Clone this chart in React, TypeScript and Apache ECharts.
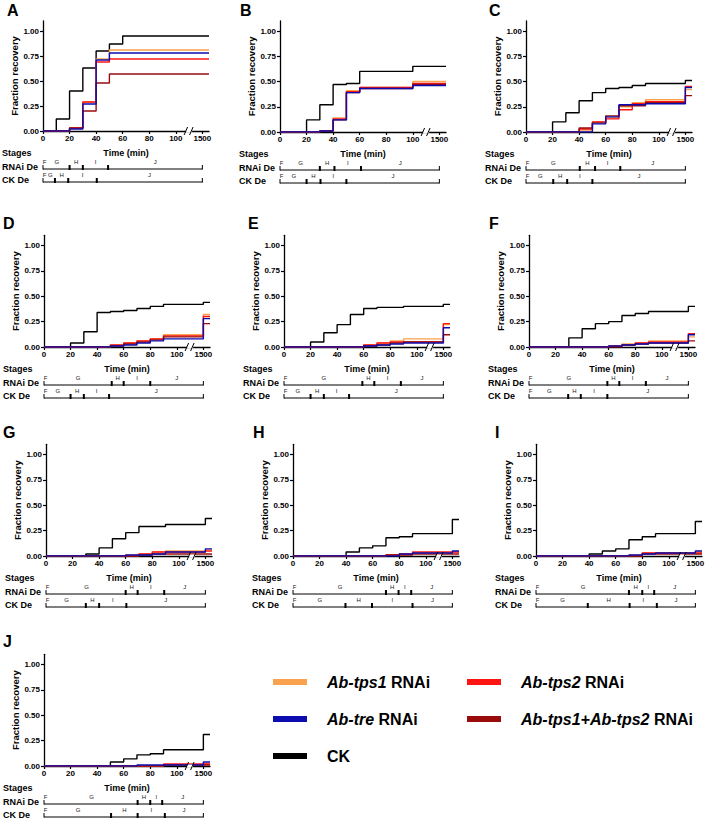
import React, { useEffect, useRef } from 'react';
import * as echarts from 'echarts';

const FONT = '"Liberation Sans", Arial, Helvetica, sans-serif';

// ---- data (time in minutes) ----
const TIMES = [0, 10, 20, 30, 40, 50, 60, 70, 80, 90, 100, 1500];
const X_TICKS_MIN = [0, 20, 40, 60, 80, 100, 1500];
const Y_TICKS = [0, 0.25, 0.5, 0.75, 1.0];
const END_MIN = 1550;
const BREAK_AT = 110;
const STAGE_END_MIN = 1500;
const STAGE_LETTERS = ['F', 'G', 'H', 'I', 'J'];
const ROW_NAMES = ['RNAi De', 'CK De'];

const A_CK = [0, 0.12, 0.40, 0.63, 0.80, 0.87, 0.95, 0.95, 0.95, 0.95, 0.95, 0.95];
const A_TPS1 = [0, 0, 0.03, 0.29, 0.72, 0.81, 0.81, 0.81, 0.81, 0.81, 0.81, 0.81];
const A_TRE = [0, 0, 0.02, 0.27, 0.71, 0.78, 0.78, 0.78, 0.78, 0.78, 0.78, 0.78];
const A_TPS2 = [0, 0, 0.03, 0.29, 0.69, 0.72, 0.72, 0.72, 0.72, 0.72, 0.72, 0.72];
const A_TPS12 = [0, 0, 0.03, 0.20, 0.48, 0.57, 0.57, 0.57, 0.57, 0.57, 0.57, 0.57];

const B_CK = [0, 0, 0.12, 0.27, 0.47, 0.48, 0.60, 0.60, 0.60, 0.60, 0.65, 0.65];
const B_TPS1 = [0, 0, 0, 0.01, 0.14, 0.41, 0.44, 0.44, 0.44, 0.44, 0.50, 0.50];
const B_TRE = [0, 0, 0, 0.01, 0.12, 0.39, 0.43, 0.43, 0.43, 0.43, 0.46, 0.46];
const B_TPS2 = [0, 0, 0, 0.01, 0.13, 0.40, 0.44, 0.44, 0.44, 0.44, 0.48, 0.48];
const B_TPS12 = [0, 0, 0, 0.01, 0.12, 0.39, 0.43, 0.43, 0.43, 0.43, 0.47, 0.47];

const C_CK = [0, 0, 0.10, 0.19, 0.31, 0.39, 0.43, 0.44, 0.46, 0.48, 0.48, 0.51];
const C_TPS1 = [0, 0, 0, 0, 0.02, 0.10, 0.14, 0.25, 0.29, 0.32, 0.32, 0.42];
const C_TRE = [0, 0, 0, 0, 0, 0.08, 0.15, 0.27, 0.27, 0.28, 0.28, 0.44];
const C_TPS2 = [0, 0, 0, 0, 0.03, 0.10, 0.13, 0.22, 0.28, 0.30, 0.30, 0.45];
const C_TPS12 = [0, 0, 0, 0, 0.04, 0.09, 0.16, 0.26, 0.26, 0.29, 0.29, 0.36];

const D_CK = [0, 0, 0.04, 0.15, 0.34, 0.35, 0.36, 0.38, 0.40, 0.42, 0.42, 0.44];
const D_TPS1 = [0, 0, 0, 0, 0, 0.02, 0.04, 0.06, 0.08, 0.12, 0.12, 0.32];
const D_TRE = [0, 0, 0, 0, 0, 0.01, 0.02, 0.04, 0.06, 0.08, 0.08, 0.28];
const D_TPS2 = [0, 0, 0, 0, 0, 0.02, 0.04, 0.06, 0.08, 0.11, 0.11, 0.30];
const D_TPS12 = [0, 0, 0, 0, 0, 0.01, 0.03, 0.05, 0.07, 0.10, 0.10, 0.23];

const E_CK = [0, 0, 0.05, 0.14, 0.22, 0.32, 0.38, 0.39, 0.39, 0.40, 0.40, 0.42];
const E_TPS1 = [0, 0, 0, 0, 0, 0, 0.02, 0.04, 0.06, 0.08, 0.08, 0.22];
const E_TRE = [0, 0, 0, 0, 0, 0, 0.01, 0.02, 0.03, 0.04, 0.04, 0.19];
const E_TPS2 = [0, 0, 0, 0, 0, 0, 0.02, 0.04, 0.05, 0.05, 0.05, 0.23];
const E_TPS12 = [0, 0, 0, 0, 0, 0, 0.01, 0.02, 0.04, 0.05, 0.05, 0.12];

const F_CK = [0, 0, 0, 0.09, 0.18, 0.23, 0.25, 0.31, 0.33, 0.35, 0.35, 0.40];
const F_TPS1 = [0, 0, 0, 0, 0, 0, 0.01, 0.03, 0.04, 0.06, 0.06, 0.10];
const F_TRE = [0, 0, 0, 0, 0, 0, 0.01, 0.02, 0.03, 0.04, 0.04, 0.12];
const F_TPS2 = [0, 0, 0, 0, 0, 0, 0.01, 0.02, 0.04, 0.05, 0.05, 0.13];
const F_TPS12 = [0, 0, 0, 0, 0, 0, 0, 0.02, 0.03, 0.04, 0.04, 0.06];

const G_CK = [0, 0, 0, 0.02, 0.08, 0.17, 0.23, 0.29, 0.29, 0.31, 0.31, 0.37];
const G_TPS1 = [0, 0, 0, 0, 0, 0, 0.01, 0.02, 0.04, 0.05, 0.05, 0.06];
const G_TRE = [0, 0, 0, 0, 0, 0, 0.01, 0.01, 0.02, 0.04, 0.04, 0.07];
const G_TPS2 = [0, 0, 0, 0, 0, 0, 0, 0.02, 0.04, 0.04, 0.04, 0.05];
const G_TPS12 = [0, 0, 0, 0, 0, 0, 0, 0.01, 0.02, 0.02, 0.02, 0.02];

const H_CK = [0, 0, 0, 0, 0.04, 0.08, 0.10, 0.18, 0.19, 0.22, 0.22, 0.36];
const H_TPS1 = [0, 0, 0, 0, 0, 0, 0, 0.01, 0.02, 0.03, 0.03, 0.04];
const H_TRE = [0, 0, 0, 0, 0, 0, 0, 0, 0.02, 0.03, 0.03, 0.05];
const H_TPS2 = [0, 0, 0, 0, 0, 0, 0, 0.01, 0.02, 0.04, 0.04, 0.04];
const H_TPS12 = [0, 0, 0, 0, 0, 0, 0, 0.01, 0.01, 0.02, 0.02, 0.02];

const I_CK = [0, 0, 0, 0, 0.02, 0.05, 0.07, 0.16, 0.19, 0.22, 0.22, 0.34];
const I_TPS1 = [0, 0, 0, 0, 0, 0, 0, 0.01, 0.03, 0.03, 0.03, 0.04];
const I_TRE = [0, 0, 0, 0, 0, 0, 0, 0.01, 0.02, 0.03, 0.03, 0.05];
const I_TPS2 = [0, 0, 0, 0, 0, 0, 0, 0, 0.03, 0.03, 0.03, 0.03];
const I_TPS12 = [0, 0, 0, 0, 0, 0, 0, 0, 0.02, 0.02, 0.02, 0.02];

const J_CK = [0, 0, 0, 0, 0, 0.04, 0.07, 0.11, 0.12, 0.16, 0.16, 0.31];
const J_TPS1 = [0, 0, 0, 0, 0, 0, 0, 0, 0, 0.01, 0.01, 0.02];
const J_TRE = [0, 0, 0, 0, 0, 0, 0, 0.01, 0.01, 0.01, 0.01, 0.04];
const J_TPS2 = [0, 0, 0, 0, 0, 0, 0, 0, 0, 0.02, 0.02, 0.02];
const J_TPS12 = [0, 0, 0, 0, 0, 0, 0, 0, 0, 0.01, 0.01, 0.01];

// stage boundaries (min): end of F, G, H, I
const A_RNAI_ST = [1, 20, 30, 49];
const A_CK_ST = [2, 9, 19, 40.5];
const B_RNAI_ST = [1, 30, 41, 61];
const B_CK_ST = [1, 20, 30.5, 50];
const C_RNAI_ST = [0.5, 40.5, 52, 71];
const C_CK_ST = [1, 20.5, 31, 50];
const D_RNAI_ST = [0.5, 51, 60, 80];
const D_CK_ST = [1, 20, 30, 49];
const E_RNAI_ST = [1, 59, 68, 88];
const E_CK_ST = [1, 20, 30, 49];
const F_RNAI_ST = [1, 59, 68, 88];
const F_CK_ST = [1, 29.5, 39, 59];
const G_RNAI_ST = [1, 60, 69, 89];
const G_CK_ST = [1, 30, 40, 60.5];
const H_RNAI_ST = [1, 70, 79.5, 89];
const H_CK_ST = [1, 39.5, 59.5, 90];
const I_RNAI_ST = [1, 70, 80, 89];
const I_CK_ST = [1, 39, 70.5, 91];
const J_RNAI_ST = [1, 70.5, 80, 89];
const J_CK_ST = [1, 50.5, 70.5, 91];

const SERIES_DEF = [
  { key: 'ck', name: 'CK', color: '#000000' },
  { key: 'tps1', name: 'Ab-tps1 RNAi', color: '#F9A24D' },
  { key: 'tps2', name: 'Ab-tps2 RNAi', color: '#FF1414' },
  { key: 'tps12', name: 'Ab-tps1+Ab-tps2 RNAi', color: '#9A0C0C' },
  { key: 'tre', name: 'Ab-tre RNAi', color: '#0C0CB0' },
];

const PANELS = [
  { id: 'A', ck: A_CK, tps1: A_TPS1, tre: A_TRE, tps2: A_TPS2, tps12: A_TPS12, rnaiSt: A_RNAI_ST, ckSt: A_CK_ST },
  { id: 'B', ck: B_CK, tps1: B_TPS1, tre: B_TRE, tps2: B_TPS2, tps12: B_TPS12, rnaiSt: B_RNAI_ST, ckSt: B_CK_ST },
  { id: 'C', ck: C_CK, tps1: C_TPS1, tre: C_TRE, tps2: C_TPS2, tps12: C_TPS12, rnaiSt: C_RNAI_ST, ckSt: C_CK_ST },
  { id: 'D', ck: D_CK, tps1: D_TPS1, tre: D_TRE, tps2: D_TPS2, tps12: D_TPS12, rnaiSt: D_RNAI_ST, ckSt: D_CK_ST },
  { id: 'E', ck: E_CK, tps1: E_TPS1, tre: E_TRE, tps2: E_TPS2, tps12: E_TPS12, rnaiSt: E_RNAI_ST, ckSt: E_CK_ST },
  { id: 'F', ck: F_CK, tps1: F_TPS1, tre: F_TRE, tps2: F_TPS2, tps12: F_TPS12, rnaiSt: F_RNAI_ST, ckSt: F_CK_ST },
  { id: 'G', ck: G_CK, tps1: G_TPS1, tre: G_TRE, tps2: G_TPS2, tps12: G_TPS12, rnaiSt: G_RNAI_ST, ckSt: G_CK_ST },
  { id: 'H', ck: H_CK, tps1: H_TPS1, tre: H_TRE, tps2: H_TPS2, tps12: H_TPS12, rnaiSt: H_RNAI_ST, ckSt: H_CK_ST },
  { id: 'I', ck: I_CK, tps1: I_TPS1, tre: I_TRE, tps2: I_TPS2, tps12: I_TPS12, rnaiSt: I_RNAI_ST, ckSt: I_CK_ST },
  { id: 'J', ck: J_CK, tps1: J_TPS1, tre: J_TRE, tps2: J_TPS2, tps12: J_TPS12, rnaiSt: J_RNAI_ST, ckSt: J_CK_ST },
];

// ---- layout (pixels) ----
const LAYOUT = [
  { left: 43, y0: 131, unit: 100, lx: 7, ly: 2 },
  { left: 280, y0: 132, unit: 101, lx: 240, ly: 2 },
  { left: 526, y0: 132, unit: 101, lx: 489, ly: 2 },
  { left: 44, y0: 347, unit: 101.5, lx: 3, ly: 215 },
  { left: 284, y0: 347, unit: 101.5, lx: 248, ly: 215 },
  { left: 529, y0: 347, unit: 101.5, lx: 489, ly: 215 },
  { left: 46, y0: 556, unit: 101.5, lx: 3, ly: 424 },
  { left: 293, y0: 556, unit: 101.5, lx: 253, ly: 424 },
  { left: 536, y0: 556, unit: 101.5, lx: 495, ly: 424 },
  { left: 44, y0: 766, unit: 101.5, lx: 3, ly: 633 },
];
const GRID_W = 166;
const Y_MAX = 1.1;

const xval = (t: number) => (t >= 1500 ? 120 + (t - 1500) / 10 : t);
const xLabel = (v: number) => (v >= 120 ? String(Math.round(1500 + (v - 120) * 10)) : String(v));

function buildOption() {
  const grids: any[] = [];
  const xAxes: any[] = [];
  const yAxes: any[] = [];
  const series: any[] = [];
  const titles: any[] = [];

  PANELS.forEach((p: any, i: number) => {
    const L = LAYOUT[i];
    const h = L.unit * Y_MAX;
    grids.push({ left: L.left, top: L.y0 - h, width: GRID_W, height: h, containLabel: false });
    titles.push({
      text: p.id, left: L.lx, top: L.ly, padding: 0,
      textStyle: { fontSize: 16, fontWeight: 'bold', color: '#000', fontFamily: FONT },
    });
    const xt = X_TICKS_MIN.map(xval);
    xAxes.push({
      type: 'value', gridIndex: i, min: 0, max: xval(END_MIN),
      name: 'Time (min)', nameLocation: 'middle', nameGap: 17,
      nameTextStyle: { fontSize: 9, fontWeight: 'bold', color: '#000', fontFamily: FONT },
      axisLine: { show: true, onZero: false, lineStyle: { color: '#000', width: 1.3 } },
      axisTick: { show: true, length: 3, customValues: xt, lineStyle: { color: '#000', width: 1.2 } },
      axisLabel: {
        customValues: xt, margin: 3, fontSize: 8, fontWeight: 'bold', color: '#000', fontFamily: FONT,
        formatter: (v: number) => xLabel(v),
      },
      splitLine: { show: false },
    });
    yAxes.push({
      type: 'value', gridIndex: i, min: 0, max: Y_MAX,
      name: 'Fraction recovery', nameLocation: 'middle', nameGap: 23,
      nameTextStyle: { fontSize: 9.5, fontWeight: 'bold', color: '#000', fontFamily: FONT },
      axisLine: { show: true, onZero: false, lineStyle: { color: '#000', width: 1.3 } },
      axisTick: { show: true, length: 3, customValues: Y_TICKS, lineStyle: { color: '#000', width: 1.2 } },
      axisLabel: {
        customValues: Y_TICKS, margin: 4, fontSize: 8, fontWeight: 'bold', color: '#000', fontFamily: FONT,
        formatter: (v: number) => v.toFixed(2),
      },
      splitLine: { show: false },
    });

    SERIES_DEF.forEach((sd) => {
      const vals: number[] = p[sd.key];
      const data = TIMES.map((t, k) => [xval(t), vals[k]]);
      data.push([xval(END_MIN), vals[vals.length - 1]]);
      series.push({
        type: 'line', name: sd.name, xAxisIndex: i, yAxisIndex: i, data,
        step: 'end', symbol: 'none', color: sd.color,
        lineStyle: { color: sd.color, width: 1.4 }, itemStyle: { color: sd.color },
        emphasis: { disabled: true }, silent: true,
      });
    });

    // axis break
    series.push({
      type: 'custom', xAxisIndex: i, yAxisIndex: i, silent: true, clip: false, z: 5,
      data: [[BREAK_AT, 0]],
      renderItem: (params: any, api: any) => {
        const c = api.coord([api.value(0), api.value(1)]);
        return {
          type: 'group',
          children: [
            { type: 'rect', shape: { x: c[0] - 3, y: c[1] - 1.5, width: 6, height: 3 }, style: { fill: '#fff' } },
            { type: 'line', shape: { x1: c[0] - 5, y1: c[1] + 4, x2: c[0] - 1.5, y2: c[1] - 4 }, style: { stroke: '#000', lineWidth: 1 } },
            { type: 'line', shape: { x1: c[0] + 0.5, y1: c[1] + 4, x2: c[0] + 4, y2: c[1] - 4 }, style: { stroke: '#000', lineWidth: 1 } },
          ],
        };
      },
    });

    // stage bars
    series.push({
      type: 'custom', xAxisIndex: i, yAxisIndex: i, silent: true, clip: false, z: 5,
      encode: { x: 1, y: 0 },
      data: [[0, ...p.rnaiSt], [1, ...p.ckSt]],
      renderItem: (params: any, api: any) => {
        const row = api.value(0);
        const b = [api.value(1), api.value(2), api.value(3), api.value(4)];
        const origin = api.coord([0, 0]);
        const x0 = origin[0];
        const xe = api.coord([xval(STAGE_END_MIN), 0])[0];
        const yl = origin[1] + (row === 0 ? 38 : 51);
        const xs = b.map((v: number) => api.coord([v, 0])[0]);
        const stroke = { stroke: '#000', lineWidth: 1 };
        const children: any[] = [
          { type: 'line', shape: { x1: x0, y1: yl, x2: xe, y2: yl }, style: stroke },
          { type: 'line', shape: { x1: x0, y1: yl - 4, x2: x0, y2: yl + 0.5 }, style: stroke },
          { type: 'line', shape: { x1: xe, y1: yl - 4, x2: xe, y2: yl + 0.5 }, style: stroke },
        ];
        for (let k = 1; k < 4; k++) {
          children.push({ type: 'rect', shape: { x: xs[k] - 1, y: yl - 4, width: 2, height: 5 }, style: { fill: '#000' } });
        }
        const centers = [x0 + 1.5, (xs[0] + xs[1]) / 2, (xs[1] + xs[2]) / 2, (xs[2] + xs[3]) / 2, (xs[3] + xe) / 2];
        STAGE_LETTERS.forEach((s, k) => {
          children.push({
            type: 'text', x: centers[k], y: yl - 7,
            style: { text: s, fontSize: 6, fontFamily: FONT, fill: '#222222', opacity: 1, align: 'center', verticalAlign: 'middle' },
          });
        });
        children.push({
          type: 'text', x: x0 - 41, y: yl - 2,
          style: { text: ROW_NAMES[row], fontSize: 9, fontWeight: 'bold', fontFamily: FONT, fill: '#000', align: 'left', verticalAlign: 'middle' },
        });
        if (row === 0) {
          children.push({
            type: 'text', x: x0 - 41, y: origin[1] + 22,
            style: { text: 'Stages', fontSize: 9, fontWeight: 'bold', fontFamily: FONT, fill: '#000', align: 'left', verticalAlign: 'middle' },
          });
        }
        return { type: 'group', children };
      },
    });
  });

  const legendFormatter = (name: string) => {
    const idx = name.indexOf(' RNAi');
    if (idx < 0) return name;
    return '{i|' + name.slice(0, idx) + '} RNAi';
  };
  const legendText = {
    fontSize: 16, fontWeight: 'bold', color: '#000', fontFamily: FONT, lineHeight: 18,
    padding: [0, 0, 0, 15],
    rich: { i: { fontSize: 16, fontWeight: 'bold', fontStyle: 'italic', color: '#000', fontFamily: FONT, lineHeight: 18 } },
  };

  return {
    animation: false,
    backgroundColor: '#ffffff',
    title: titles,
    grid: grids,
    xAxis: xAxes,
    yAxis: yAxes,
    legend: [
      {
        orient: 'vertical', left: 273, top: 673, itemWidth: 34, itemHeight: 6, itemGap: 19, icon: 'rect',
        selectedMode: false, padding: 0,
        data: ['Ab-tps1 RNAi', 'Ab-tre RNAi', 'CK'],
        formatter: legendFormatter, textStyle: legendText,
      },
      {
        orient: 'vertical', left: 467, top: 673, itemWidth: 34, itemHeight: 6, itemGap: 19, icon: 'rect',
        selectedMode: false, padding: 0,
        data: ['Ab-tps2 RNAi', 'Ab-tps1+Ab-tps2 RNAi'],
        formatter: legendFormatter, textStyle: legendText,
      },
    ],
    series,
  };
}

export default function App() {
  const ref = useRef<HTMLDivElement>(null);
  useEffect(() => {
    document.body.style.margin = '0';
    if (!ref.current) return;
    const chart = echarts.init(ref.current, null, { renderer: 'svg' });
    chart.setOption(buildOption() as any);
    return () => chart.dispose();
  }, []);
  return <div ref={ref} style={{ width: 708, height: 820, position: 'absolute', left: 0, top: 0 }} />;
}
